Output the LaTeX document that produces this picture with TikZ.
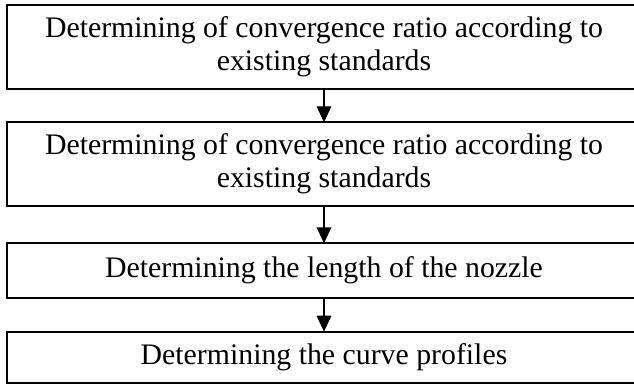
\documentclass[tikz,border=0pt]{standalone}
\usepackage{fontspec}
\setmainfont{Liberation Serif}
\usetikzlibrary{positioning,arrows.meta}

\begin{document}
\begin{tikzpicture}[
    procbox/.style={draw, line width=1.8bp, align=center, outer sep=0pt,
                    minimum width=634bp, inner sep=0pt,
                    font=\fontsize{29.8bp}{33bp}\selectfont},
    op/.style={-{Triangle[length=16bp, width=14.5bp]}, line width=1.8bp},
  ]
  \useasboundingbox (0,0) rectangle (634bp,-390bp);

  % --- the four steps, top to bottom ---
  \node[procbox, minimum height=84.6bp] (ratio1) at (324bp,-47bp)
    {Determining of convergence ratio according to\\existing standards};
  \node[procbox, minimum height=83.7bp, below=33bp of ratio1] (ratio2)
    {Determining of convergence ratio according to\\existing standards};
  \node[procbox, minimum height=54.4bp, below=37.3bp of ratio2] (length)
    {Determining the length of the nozzle};
  \node[procbox, minimum height=51.6bp, below=34bp of length] (curve)
    {Determining the curve profiles};

  % --- arrows ---
  \draw[op] (ratio1) -- (ratio2);
  \draw[op] (ratio2) -- (length);
  \draw[op] (length) -- (curve);
\end{tikzpicture}
\end{document}
